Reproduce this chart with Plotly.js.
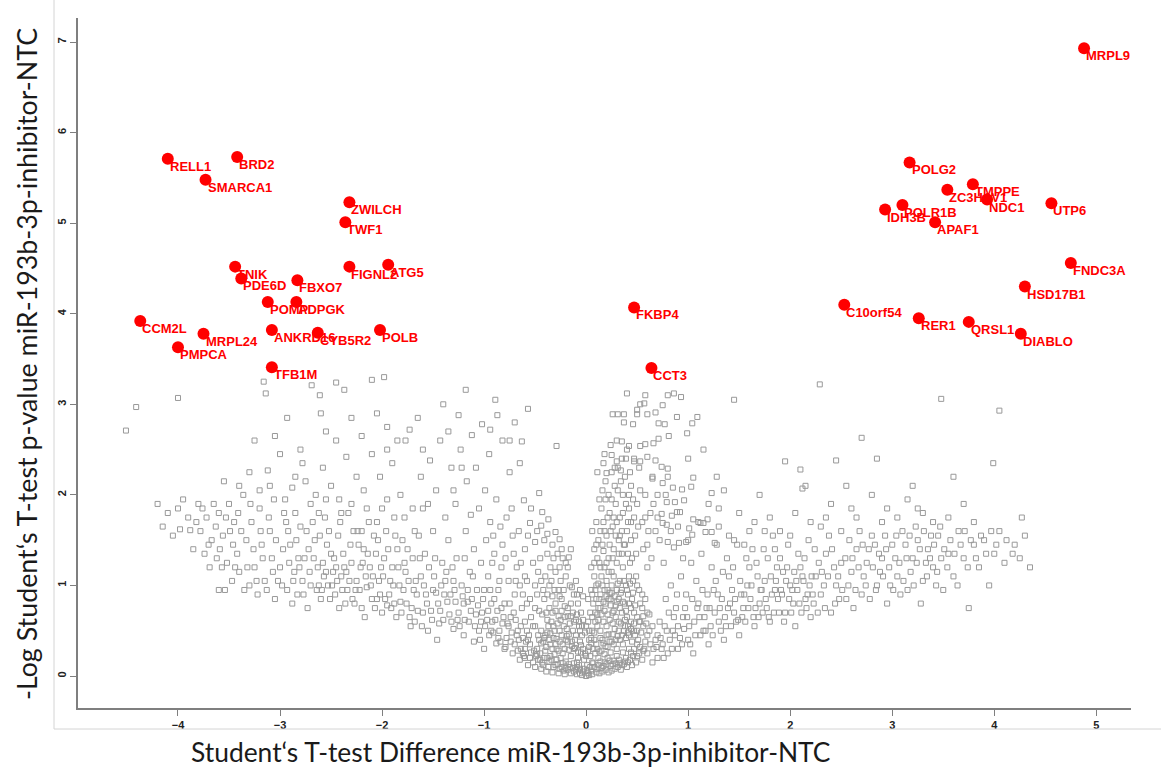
<!DOCTYPE html>
<html>
<head>
<meta charset="utf-8">
<script src="https://cdn.plot.ly/plotly-3.0.1.min.js"></script>
<style>html,body{margin:0;padding:0;background:#fff;}#chart{width:1161px;height:771px;}</style>
</head>
<body>
<div id="chart"></div>
<script>
// Labelled (significant) genes
const geneNames = ["RELL1","BRD2","SMARCA1","ZWILCH","TWF1","TNIK","PDE6D","FBXO7","FIGNL2","ATG5","POMP","ADPGK","CCM2L","MRPL24","PMPCA","ANKRD16","CYB5R2","POLB","TFB1M","FKBP4","CCT3","MRPL9","POLG2","TMPPE","ZC3HAV1","NDC1","UTP6","IDH3B","POLR1B","APAF1","FNDC3A","HSD17B1","C10orf54","RER1","QRSL1","DIABLO"];
const geneDiff = [-4.10,-3.42,-3.73,-2.32,-2.36,-3.44,-3.38,-2.83,-2.32,-1.94,-3.12,-2.84,-4.37,-3.75,-4.00,-3.08,-2.63,-2.02,-3.08,0.47,0.64,4.88,3.17,3.79,3.54,3.93,4.56,2.93,3.10,3.42,4.75,4.30,2.53,3.26,3.75,4.26];
const geneLogP = [5.71,5.73,5.48,5.23,5.01,4.52,4.39,4.37,4.52,4.54,4.13,4.13,3.92,3.78,3.63,3.82,3.79,3.82,3.41,4.07,3.40,6.93,5.67,5.43,5.37,5.26,5.22,5.15,5.20,5.01,4.56,4.30,4.10,3.95,3.91,3.78];

// Background (non-significant) proteins, [difference, -log p]
const greyCentre = [[0,0],[0.02,0.03],[-0.03,0.05],[0.05,0.06],[-0.06,0.08],[0.08,0.1],[-0.1,0.07],[0.12,0.12],[-0.12,0.14],[0.15,0.09],[-0.16,0.1],[0.18,0.15],[-0.2,0.16],[0.21,0.2],[-0.22,0.06],[0.24,0.11],[-0.25,0.2],[0.27,0.17],[-0.28,0.13],[0.3,0.22],[-0.31,0.24],[0.33,0.14],[-0.34,0.18],[0.36,0.26],[-0.37,0.1],[0.39,0.2],[-0.4,0.28],[0.42,0.3],[-0.43,0.15],[0.45,0.12],[0.01,0.12],[-0.02,0.18],[0.04,0.22],[-0.05,0.26],[0.07,0.3],[-0.08,0.2],[0.1,0.35],[-0.11,0.31],[0.13,0.27],[-0.14,0.38],[0.16,0.4],[-0.17,0.29],[0.19,0.33],[-0.19,0.44],[0.22,0.46],[-0.23,0.35],[0.25,0.38],[-0.26,0.5],[0.28,0.52],[-0.29,0.41],[0.31,0.44],[-0.32,0.55],[0.34,0.58],[-0.35,0.47],[0.37,0.5],[-0.38,0.62],[0.4,0.65],[0.03,0.4],[-0.04,0.45],[0.06,0.5],[-0.07,0.55],[0.09,0.6],[-0.1,0.62],[0.11,0.68],[-0.13,0.7],[0.14,0.75],[-0.15,0.8],[0.17,0.82],[-0.18,0.66],[0.2,0.88],[-0.21,0.77],[0.23,0.92],[-0.24,0.85],[0.26,0.7],[-0.27,0.95],[0.29,0.78],[-0.3,0.72],[0.32,0.85],[0.35,0.95],[-0.33,0.88],[0.38,0.8],[-0.36,1.0],[0.41,0.9],[0.44,0.75],[-0.41,0.85],[0.47,0.5],[-0.46,0.4],[0.5,0.35],[-0.49,0.22],[0.52,0.6],[-0.52,0.55],
[-0.5,0.1],[-0.47,0.18],[-0.44,0.08],[-0.41,0.2],[-0.39,0.05],[-0.36,0.16],[-0.33,0.04],[-0.3,0.12],[-0.27,0.03],[-0.24,0.1],[-0.21,0.02],[-0.18,0.07],[-0.15,0.03],[-0.12,0.05],[-0.09,0.02],[-0.06,0.03],[-0.04,0.01],[0.03,0.01],[0.06,0.02],[0.1,0.04],[0.13,0.03],[0.16,0.05],[0.19,0.07],[0.22,0.04],[0.25,0.06],[0.28,0.08],[0.31,0.1],[0.34,0.07],[0.37,0.13],[0.4,0.1],[0.43,0.18],[0.46,0.22],[0.49,0.15],[0.52,0.25],[0.55,0.18],[-0.48,0.3],[-0.45,0.25],[-0.42,0.38],[-0.39,0.32],[-0.36,0.4],[-0.33,0.3],[-0.3,0.35],[-0.27,0.28],[-0.24,0.45],[-0.21,0.3],[-0.18,0.38],[-0.15,0.22],[-0.12,0.3],[-0.09,0.15],[-0.06,0.38],[-0.03,0.3],[0.0,0.22],[0.03,0.32],[0.06,0.15],[0.09,0.25],[0.12,0.2],[0.15,0.28],[0.18,0.24],[0.21,0.32],[0.24,0.26],[0.27,0.35],[0.3,0.3],[0.33,0.4],[0.36,0.35],[0.39,0.42],[0.42,0.45],[0.45,0.38],[0.48,0.45],[0.51,0.4],[0.54,0.48],[0.57,0.3],[-0.44,0.5],[-0.4,0.45],[-0.37,0.55],[-0.34,0.6],[-0.31,0.5],[-0.28,0.58],[-0.25,0.62],[-0.22,0.55],[-0.19,0.52],[-0.16,0.58],[-0.13,0.5],[-0.1,0.45],[-0.07,0.6],[-0.04,0.55],[-0.01,0.48],[0.02,0.6],[0.05,0.42],[0.08,0.48],[0.11,0.55],[0.14,0.5],[0.17,0.6],[0.2,0.55],[0.23,0.62],[0.26,0.58],[0.29,0.65],[0.32,0.6],[0.35,0.7],[0.38,0.62],[0.41,0.55],[0.44,0.6],[0.47,0.7],[0.5,0.65],[0.53,0.8],[0.56,0.55],[0.6,0.45],[0.63,0.35],[-0.55,0.35],[-0.58,0.5],[-0.62,0.42],
[-0.05,0.7],[-0.08,0.8],[-0.12,0.9],[-0.16,1.0],[-0.2,1.1],[-0.25,1.05],[-0.3,1.15],[-0.35,1.2],[-0.4,1.1],[-0.45,1.3],[-0.5,1.0],[-0.55,0.85],[-0.6,1.1],[-0.65,1.0],[-0.03,0.88],[-0.1,1.05],[-0.18,1.2],[-0.23,1.3],[-0.28,1.35],[-0.42,0.95],
[-0.15,1.4],[-0.2,1.25],[-0.26,1.2],[-0.32,1.3],[-0.33,1.45],[-0.38,1.35],[-0.41,1.5],[-0.47,1.15],[-0.48,1.6],[-0.52,1.25],[-0.57,1.55],[-0.58,1.05],[-0.62,0.9],[-0.64,1.25],[-0.66,1.6],[-0.69,1.05],[-0.71,1.35],[-0.73,1.85],[-0.75,0.8],[-0.79,1.3],[-0.84,1.65],[-0.85,1.05],[-0.91,1.55],[-0.92,1.25]];

const greyCore = [[-0.02,0.08],[0.01,0.06],[-0.07,0.12],[0.04,0.1],[-0.09,0.1],[0.07,0.14],[-0.13,0.09],[0.11,0.08],[-0.17,0.13],[0.14,0.16],[-0.2,0.09],[0.17,0.11],[-0.23,0.14],[0.2,0.13],[-0.26,0.08],[0.23,0.17],[-0.29,0.18],[0.26,0.13],[-0.32,0.1],[0.29,0.14],[-0.35,0.22],[0.32,0.18],[-0.38,0.2],[0.35,0.12],[-0.42,0.12],[0.38,0.16],[-0.45,0.18],[0.41,0.15],[0.44,0.26],[-0.48,0.24],[0.47,0.3],[-0.51,0.28],[0.5,0.22],[0.53,0.32],[-0.54,0.26],[0.56,0.28],[0.58,0.38],[-0.57,0.4],[0.6,0.25],[0.62,0.5],[-0.6,0.2],[0.66,0.3],[-0.64,0.3],[0.68,0.4],
[-0.01,0.25],[0.02,0.28],[-0.05,0.34],[0.05,0.36],[-0.08,0.27],[0.08,0.4],[-0.11,0.4],[0.11,0.3],[-0.14,0.33],[0.14,0.42],[-0.17,0.46],[0.17,0.36],[-0.2,0.4],[0.2,0.45],[-0.23,0.25],[0.23,0.38],[-0.26,0.38],[0.26,0.46],[-0.29,0.3],[0.29,0.4],[-0.32,0.42],[0.32,0.5],[-0.35,0.35],[0.35,0.45],[-0.38,0.48],[0.38,0.55],[-0.41,0.42],[0.41,0.48],[-0.44,0.36],[0.44,0.52],[0.47,0.58],[-0.47,0.45],[0.5,0.5],[-0.5,0.55],[0.53,0.6],[0.56,0.66],[0.59,0.58],[0.62,0.68],[0.65,0.55],
[0.0,0.55],[0.03,0.5],[-0.03,0.62],[0.06,0.65],[-0.06,0.5],[0.09,0.7],[-0.09,0.68],[0.12,0.62],[-0.12,0.6],[0.15,0.68],[-0.15,0.66],[0.18,0.72],[-0.18,0.75],[0.21,0.68],[-0.21,0.65],[0.24,0.78],[-0.24,0.72],[0.27,0.72],[-0.27,0.66],[0.3,0.82],[-0.3,0.8],[0.33,0.75],[-0.33,0.7],[0.36,0.82],[-0.36,0.75],[0.39,0.72],[-0.39,0.7],[0.42,0.8],[-0.43,0.68],[0.45,0.85],[-0.46,0.72],[0.48,0.78],[-0.5,0.75],[0.55,0.75],[-0.54,0.65],[0.58,0.85],[0.6,0.7],[-0.58,0.8],
[0.06,0.9],[0.1,1.0],[0.13,0.85],[0.18,0.95],[0.22,0.85],[0.25,0.92],[0.28,0.88],[0.31,1.02],[0.34,0.92],[0.37,1.05],[0.4,0.95],[0.43,1.02],[0.46,0.92],[0.49,1.1],[0.52,0.95],[-0.06,0.95],[-0.09,0.9],[-0.14,0.98],[-0.22,0.95],[-0.26,0.88],[-0.31,0.95],[-0.34,1.05],[-0.38,0.9],[-0.44,1.05],[-0.48,0.9]];

const greyColumn = [[0.12,1.02],[0.15,1.1],[0.18,1.2],[0.2,1.05],[0.22,1.3],[0.25,1.15],[0.27,1.4],[0.3,1.25],[0.32,1.5],[0.35,1.35],[0.1,1.45],[0.14,1.6],[0.17,1.7],[0.2,1.55],[0.23,1.8],[0.26,1.65],[0.29,1.9],[0.33,1.75],[0.36,2.0],[0.4,1.6],[0.42,1.85],[0.45,1.3],[0.48,1.55],[0.13,1.95],[0.16,2.05],[0.19,2.15],[0.22,2.0],[0.25,2.25],[0.28,2.1],[0.31,2.3],[0.35,2.4],[0.38,2.2],[0.44,2.1],[0.5,1.9],[0.55,1.7],[0.58,2.0],[0.6,1.45],[0.63,1.8],[0.08,1.25],[0.06,1.6],[0.11,2.25],[0.18,2.45],[0.24,2.55],[0.3,2.6],[0.4,2.5],[0.47,2.4],[0.52,2.3],[0.65,2.2],[0.7,2.0],[0.68,1.6],[0.05,0.95],[0.1,0.85],[0.25,1.0],[0.42,1.1],[0.5,1.0],[0.55,0.9],[0.6,1.2],
[0.04,0.7],[0.07,0.8],[0.09,0.95],[0.12,0.75],[0.14,0.9],[0.16,1.0],[0.19,0.8],[0.21,0.95],[0.24,0.85],[0.27,1.1],[0.3,0.95],[0.33,1.05],[0.36,1.2],[0.39,1.0],[0.43,1.25],[0.46,1.05],[0.08,1.1],[0.11,1.3],[0.14,1.2],[0.17,1.38],[0.2,1.25],[0.23,1.45],[0.26,1.3],[0.29,1.55],[0.32,1.35],[0.35,1.6],[0.38,1.45],[0.41,1.7],[0.44,1.5],[0.47,1.75],
[0.02,0.85],[0.05,1.2],[0.08,1.4],[0.1,1.7],[0.12,1.5],[0.13,1.25],[0.15,1.85],[0.16,1.45],[0.18,1.6],[0.19,1.95],[0.21,1.75],[0.22,1.15],[0.24,1.6],[0.25,1.95],[0.27,1.75],[0.28,2.3],[0.3,1.7],[0.31,2.05],[0.33,1.55],[0.34,2.15],[0.36,1.8],[0.37,1.45],[0.39,1.9],[0.41,1.35],[0.42,2.0],[0.44,1.7],[0.46,1.95],[0.49,1.35],[0.51,1.65],[0.53,2.05],[0.56,1.4],[0.58,1.75],[0.61,1.6],[0.64,1.3],[0.66,1.9],[0.7,1.75],[0.72,1.5],[0.76,1.25],[0.83,1.6],[0.9,1.65],[0.95,1.3],[1.0,1.5],
[0.40,3.12],[0.58,3.10],[0.80,3.10],[0.86,3.12],[0.93,3.08],[0.53,3.0],[0.57,3.01],[0.75,2.99],[0.26,2.89],[0.31,2.89],[0.37,2.89],[0.5,2.94],[0.5,2.89],[0.6,2.89],[0.68,2.91],[0.89,2.86],[1.09,2.86],[1.04,2.79],[0.99,2.68],[0.37,2.8],[0.46,2.78],[0.71,2.79],[0.77,2.78],[0.81,2.65],[0.71,2.62],[0.66,2.57],[0.35,2.59],[0.58,2.56],[0.53,2.54],[0.42,2.54],
[0.17,2.35],[0.25,2.44],[0.30,2.37],[0.39,2.40],[0.20,2.24],[0.34,2.27],[0.43,2.25],[0.47,2.37],[0.53,2.37],[0.60,2.42],[0.68,2.38],[0.74,2.31],[0.80,2.29],[0.80,2.2],[0.75,2.13],[0.65,2.18],[1.05,2.19],[1.03,2.09],[0.94,2.06],[0.85,2.08],[1.23,2.02],[0.78,2.0],[0.96,1.94],[0.87,1.92],[0.79,1.92],[0.74,1.79],[0.84,1.77],[0.89,1.81],[0.92,1.81],[1.05,1.73],[1.19,1.73],[1.15,1.69],[1.12,1.69],[1.23,1.59],[1.17,1.59],[1.01,1.63],[1.04,1.56],[0.79,1.67],[0.75,1.69],[0.91,1.47],[0.98,1.48],[0.86,1.42],[0.80,1.48],[1.26,1.47]];

const greyLeftNear = [[-0.63,2.59],[-0.29,2.54],[-0.65,2.35],[-0.61,1.94],[-0.46,2.02],[-0.54,1.85],[-0.43,1.81],[-0.37,1.73],[-0.44,1.66],[-0.55,1.69],[-0.30,1.59],[-0.38,1.57],[-0.26,1.51],[-0.50,1.48],[-0.17,1.31],[-0.24,1.4],
[-0.55,0.2],[-0.6,0.3],[-0.65,0.18],[-0.7,0.35],[-0.72,0.25],[-0.78,0.42],[-0.8,0.3],[-0.85,0.5],[-0.88,0.36],[-0.92,0.6],[-0.95,0.45],[-1.0,0.3],[-1.02,0.7],[-1.05,0.5],[-1.1,0.38],[-1.12,0.85],[-1.15,0.6],[-1.2,0.45],[-1.22,1.0],[-1.25,0.7],[-1.3,0.52],[-1.33,0.9],[-1.37,1.15],[-1.4,0.62],[-1.45,0.8],[-1.48,1.3],[-0.56,0.45],[-0.6,0.6],[-0.63,0.75],[-0.67,0.5],[-0.7,0.9],[-0.74,0.65],[-0.76,1.05],[-0.8,0.8],[-0.83,1.2],[-0.86,0.95],[-0.9,1.35],[-0.93,0.8],[-0.96,1.1],[-0.98,1.5],[-1.03,1.25],[-1.07,0.95],[-1.1,1.4],[-1.14,1.15],[-1.18,1.6],[-1.2,0.8],[-1.27,1.3],[-1.3,1.05],[-1.35,1.5],[-1.42,1.0],[-1.46,0.4],[-1.5,0.95],
[-0.62,0.25],[-0.66,0.4],[-0.69,0.62],[-0.73,0.48],[-0.77,0.58],[-0.81,0.65],[-0.84,0.38],[-0.87,0.72],[-0.91,0.48],[-0.94,0.95],[-0.97,0.62],[-1.01,0.85],[-1.04,0.4],[-1.08,0.68],[-1.11,1.1],[-1.16,0.82],[-1.19,1.3],[-1.24,0.55],[-1.28,0.82],[-1.31,1.2],[-1.34,0.68],[-1.39,0.9],[-1.41,1.25],[-1.44,0.58],[-1.49,1.1],
[-0.52,0.15],[-0.57,0.12],[-0.59,0.38],[-0.61,0.22],[-0.64,0.55],[-0.67,0.28],[-0.68,0.45],[-0.71,0.7],[-0.74,0.38],[-0.76,0.55],[-0.79,0.32],[-0.82,0.58],[-0.83,0.75],[-0.86,0.42],[-0.89,0.62],[-0.9,0.85],[-0.93,0.5],[-0.96,0.72],[-0.99,0.55],[-1.0,0.95],[-1.03,0.6],[-1.06,0.78],[-1.09,0.55],[-1.13,0.72],[-1.16,0.95],[-1.19,0.62],[-1.21,0.88],[-1.26,0.62],[-1.29,0.95],[-1.32,0.6],[-1.36,0.82],[-1.38,1.05],[-1.43,0.72],[-1.47,0.92],
[-0.6,1.4],[-0.68,1.2],[-0.72,1.55],[-0.78,1.75],[-0.82,1.45],[-0.88,1.95],[-0.94,1.7],[-0.99,2.05],[-1.05,1.85],[-1.08,2.3],[-1.13,1.78],[-1.17,2.15],[-1.23,2.5],[-1.28,1.9],[-1.32,2.3],[-1.38,1.75],[-1.43,2.6],[-1.47,2.05],[-0.75,2.25],[-0.82,2.6],[-0.89,3.05],[-0.95,2.45],[-1.18,3.16],[-1.02,2.78],[-1.12,2.66],[-1.25,2.88],[-1.4,3.0],[-0.7,2.8],[-0.57,2.95],[-0.94,2.72],[-0.87,2.88],[-0.75,2.6],[-1.22,2.3],[-1.30,2.05],[-1.35,2.7],[-1.5,1.6]];

const greyLeftMid = [[-1.55,0.5],[-1.6,0.7],[-1.62,1.1],[-1.66,0.9],[-1.7,1.3],[-1.72,0.55],[-1.76,0.8],[-1.8,1.5],[-1.83,1.0],[-1.86,0.65],[-1.9,1.2],[-1.93,0.9],[-1.96,1.6],[-2.0,0.7],[-2.03,1.05],[-2.06,1.35],[-2.1,0.85],[-2.13,1.7],[-2.16,1.1],[-2.2,0.75],[-2.23,1.45],[-2.26,0.95],[-2.3,1.25],[-2.33,1.8],[-2.36,0.8],[-2.4,1.1],[-2.43,1.55],[-2.46,0.9],[-2.5,1.35],[-2.53,1.0],[-2.56,1.75],[-2.6,0.85],[-2.63,1.2],[-2.66,1.5],[-2.7,1.0],[-2.73,0.75],[-2.76,1.3],[-2.8,1.65],[-2.83,0.9],[-2.86,1.15],[-2.9,1.45],[-2.93,0.95],[-2.96,1.8],[-3.0,1.2],
[-1.58,1.35],[-1.64,1.55],[-1.68,0.6],[-1.74,1.05],[-1.78,1.25],[-1.85,1.4],[-1.88,0.8],[-1.92,1.05],[-1.98,1.3],[-2.02,0.9],[-2.08,1.55],[-2.12,1.2],[-2.18,1.4],[-2.22,0.95],[-2.28,1.6],[-2.32,1.05],[-2.38,1.35],[-2.42,0.75],[-2.48,1.15],[-2.52,1.6],[-2.58,1.25],[-2.62,1.0],[-2.68,1.7],[-2.72,1.4],[-2.78,1.05],[-2.82,1.3],[-2.88,0.8],[-2.92,1.6],[-2.98,1.0],
[-1.52,0.72],[-1.54,1.2],[-1.57,0.9],[-1.61,0.55],[-1.63,1.3],[-1.67,1.05],[-1.71,0.75],[-1.75,1.4],[-1.79,0.95],[-1.81,0.7],[-1.84,1.2],[-1.87,1.55],[-1.91,0.75],[-1.94,1.4],[-1.97,0.85],[-2.01,1.2],[-2.04,1.5],[-2.07,0.75],[-2.11,1.0],[-2.14,1.35],[-2.17,0.65],[-2.21,1.2],[-2.24,1.6],[-2.27,0.8],[-2.31,1.45],[-2.34,0.95],[-2.37,1.2],[-2.41,1.7],[-2.44,1.05],[-2.47,1.3],[-2.51,0.85],[-2.54,1.45],[-2.57,1.1],[-2.61,1.55],[-2.64,0.95],[-2.67,1.3],[-2.71,1.15],[-2.74,1.6],[-2.77,0.9],[-2.81,1.2],[-2.84,1.5],[-2.87,1.05],[-2.91,1.25],[-2.94,1.7],[-2.97,1.4],
[-1.51,0.62],[-1.56,0.8],[-1.59,1.0],[-1.65,0.72],[-1.69,0.95],[-1.73,0.65],[-1.77,1.15],[-1.82,0.82],[-1.89,1.0],[-1.95,0.78],[-1.99,1.1],[-2.05,0.85],[-2.09,1.1],[-2.15,0.98],[-2.19,1.25],[-2.25,1.05],[-2.29,0.85],[-2.35,1.15],[-2.39,0.95],[-2.45,1.2],[-2.49,1.0],[-2.55,1.15],[-2.59,0.95],
[-1.6,1.85],[-1.68,1.6],[-1.78,1.75],[-1.88,1.75],[-2.0,1.85],[-2.05,1.7],[-2.15,1.85],[-2.2,1.6],[-2.3,1.9],[-2.4,1.8],[-2.55,1.95],[-2.62,1.8],[-2.7,1.9],[-2.85,1.8],[-2.78,2.35],[-2.45,2.6],[-2.2,2.65],[-1.95,2.5],[-1.6,2.5],[-2.05,2.9],[-2.3,2.85],[-2.55,2.7],
[-1.55,1.9],[-1.62,2.2],[-1.7,1.85],[-1.77,2.6],[-1.73,2.72],[-1.82,2.0],[-1.9,2.35],[-1.95,1.95],[-2.02,2.2],[-2.1,2.45],[-2.18,2.05],[-2.25,2.2],[-2.35,2.42],[-2.42,1.95],[-2.5,2.1],[-2.58,2.3],[-2.65,2.0],[-2.75,2.15],[-2.85,2.2],[-2.88,2.08],[-2.95,1.95],[-1.53,2.38],[-1.65,2.85],[-1.85,2.6],[-1.95,2.75],[-2.6,2.9],[-2.8,2.5],[-2.69,3.21],[-2.61,3.10],[-2.45,3.24],[-2.37,3.16],[-2.1,3.27],[-1.98,3.30]];

const greyLeftFar = [[-3.05,0.85],[-3.08,1.3],[-3.1,1.6],[-3.12,2.27],[-3.15,1.05],[-3.18,1.45],[-3.2,1.85],[-3.22,0.9],[-3.25,1.2],[-3.28,1.7],[-3.3,1.0],[-3.33,1.5],[-3.36,2.0],[-3.4,1.15],[-3.42,1.35],[-3.45,1.7],[-3.47,1.05],[-3.5,1.9],[-3.52,1.25],[-3.54,0.95],[-3.56,1.55],[-3.6,1.8],[-3.62,1.3],[-3.65,1.9],[-3.7,1.45],[-3.72,1.75],[-3.78,1.6],[-3.8,1.9],[-3.85,1.4],[-3.88,1.61],[-3.95,1.95],[-4.0,1.85],[-4.05,1.55],[-3.14,3.12],[-3.16,3.25],[-2.93,2.85],[-3.1,2.1],[-3.2,2.05],[-3.3,2.25],[-4.0,3.07],[-4.41,2.97],[-4.51,2.71],[-3.06,1.95],[-3.25,2.6],
[-3.02,1.05],[-3.04,1.5],[-3.07,1.15],[-3.11,1.75],[-3.13,0.95],[-3.17,1.3],[-3.19,1.6],[-3.23,1.05],[-3.26,1.4],[-3.29,1.9],[-3.32,1.2],[-3.35,0.95],[-3.38,1.6],[-3.41,1.8],[-3.44,1.2],[-3.46,1.45],[-3.49,1.6],[-3.53,1.75],[-3.57,1.2],[-3.59,1.4],[-3.63,1.65],[-3.67,1.5],[-3.69,1.2],[-3.74,1.35],[-3.76,1.85],[-3.82,1.7],[-3.9,1.75],[-3.98,1.62],[-4.1,1.8],[-4.2,1.9],[-4.15,1.65],[-3.6,0.95],[-3.4,2.1],[-3.55,2.15],[-3.0,2.45],[-3.05,2.65]];

const greyRightMid = [[0.7,0.2],[0.75,0.35],[0.8,0.25],[0.85,0.5],[0.9,0.3],[0.95,0.65],[1.0,0.4],[1.05,0.25],[1.1,0.8],[1.15,0.5],[1.2,0.35],[1.25,0.95],[1.3,0.6],[1.35,0.4],[1.4,1.1],[1.45,0.7],[1.5,0.45],[1.55,0.9],[1.6,1.2],[1.65,0.55],[1.7,0.8],[1.75,1.05],[1.8,0.6],[1.85,0.95],[1.9,1.3],[1.95,0.7],[2.0,1.0],[2.05,0.55],[2.1,1.2],[2.15,0.85],[2.2,0.65],[2.25,1.1],[2.3,0.9],[2.35,1.35],[2.4,0.7],[2.45,1.0],[2.5,1.25],
[0.72,0.6],[0.78,0.85],[0.83,1.0],[0.88,0.75],[0.93,1.1],[0.98,0.9],[1.03,1.25],[1.08,1.05],[1.13,1.35],[1.18,0.75],[1.23,1.2],[1.28,1.45],[1.33,0.85],[1.38,1.3],[1.43,0.95],[1.48,1.45],[1.53,0.65],[1.58,1.0],[1.63,1.4],[1.68,1.1],[1.73,0.7],[1.78,1.3],[1.83,1.55],[1.88,0.85],[1.93,1.15],[1.98,1.45],[2.03,0.8],[2.08,1.35],[2.13,1.05],[2.18,1.5],[2.23,0.8],[2.28,1.25],[2.33,1.0],[2.38,1.55],[2.43,1.2],[2.48,0.85],
[0.65,0.15],[0.7,0.45],[0.74,0.3],[0.77,0.55],[0.82,0.4],[0.86,0.65],[0.9,0.55],[0.94,0.35],[0.97,0.75],[1.01,0.55],[1.04,0.85],[1.07,0.45],[1.11,0.65],[1.14,0.95],[1.17,0.5],[1.21,0.75],[1.24,0.45],[1.27,1.05],[1.31,0.75],[1.34,1.15],[1.37,0.55],[1.41,0.8],[1.44,1.2],[1.47,0.6],[1.51,1.05],[1.54,0.75],[1.57,1.3],[1.61,0.85],[1.64,0.65],[1.67,1.25],[1.71,0.95],[1.74,1.4],[1.77,0.75],[1.81,1.1],[1.84,0.7],[1.87,1.2],[1.91,0.95],[1.94,0.6],[1.97,1.2],[2.01,0.7],[2.04,1.15],[2.07,0.95],[2.11,0.7],[2.14,1.3],[2.17,0.9],[2.21,1.1],[2.24,1.4],[2.27,0.7],[2.31,1.15],[2.34,0.75],[2.37,1.1],[2.41,1.4],[2.44,0.8],[2.47,1.1],
[0.69,0.32],[0.73,0.42],[0.76,0.2],[0.79,0.5],[0.81,0.7],[0.84,0.3],[0.87,0.45],[0.89,0.9],[0.92,0.42],[0.96,0.52],[0.99,0.65],[1.02,0.35],[1.06,0.6],[1.09,0.75],[1.12,0.45],[1.16,0.65],[1.19,0.9],[1.22,0.55],[1.26,0.7],[1.29,0.9],[1.32,0.5],[1.36,0.65],[1.39,0.75],[1.42,0.55],[1.46,0.85],[1.49,0.62],[1.52,0.9],[1.56,0.6],[1.59,0.75],[1.62,1.0],[1.66,0.75],[1.69,0.65],[1.72,0.95],[1.76,0.85],[1.79,0.65],[1.82,0.9],[1.86,1.05],[1.89,0.7],[1.92,0.9],[1.96,1.05],[1.99,0.85],[2.02,0.95],[2.06,1.05],[2.09,0.8],[2.12,1.1],[2.16,0.75],[2.19,1.0],[2.22,0.9],
[1.1,1.7],[1.2,1.9],[1.3,1.65],[1.35,2.05],[1.4,1.55],[1.5,1.8],[1.6,1.6],[1.7,2.0],[1.8,1.75],[1.95,2.37],[2.05,1.8],[2.15,2.1],[2.3,1.65],[2.4,1.9],[2.45,2.38],[1.28,2.2],[1.45,3.05],[1.15,2.5],[1.0,2.4],[2.29,3.22],[1.9,1.6],[2.12,2.07],[2.1,2.28],[1.3,1.85],[1.45,1.5],[1.55,1.45],[1.65,1.7],[1.75,1.6],[1.85,1.4],[2.0,1.55],[2.2,1.7],[2.35,1.75]];

const greyRightFar = [[2.55,0.85],[2.6,1.15],[2.65,1.4],[2.7,0.9],[2.75,1.25],[2.8,1.55],[2.85,1.0],[2.9,1.3],[2.95,0.8],[3.0,1.45],[3.05,1.1],[3.1,1.6],[3.15,0.95],[3.2,1.3],[3.25,1.5],[3.3,1.05],[3.35,1.4],[3.4,1.2],[3.45,1.55],[3.5,0.95],[3.55,1.35],[3.6,1.1],[3.65,1.6],[3.7,1.3],[3.75,0.75],[3.8,1.45],[3.85,1.2],[3.9,1.5],[3.95,1.0],[4.0,1.35],[4.05,1.6],[4.1,1.25],[4.2,1.45],[4.25,1.3],[4.27,1.75],[4.3,1.55],[4.35,1.2],
[2.58,1.5],[2.62,0.75],[2.68,1.6],[2.72,1.1],[2.78,0.85],[2.83,1.45],[2.88,1.15],[2.93,1.55],[2.98,1.0],[3.03,1.3],[3.08,0.9],[3.13,1.45],[3.18,1.15],[3.23,1.65],[3.28,0.8],[3.33,1.25],[3.38,1.55],[3.43,1.0],[3.48,1.3],
[2.51,0.95],[2.54,1.3],[2.57,1.0],[2.61,1.3],[2.64,0.95],[2.67,1.2],[2.71,1.45],[2.74,1.0],[2.77,1.4],[2.81,1.2],[2.84,0.95],[2.87,1.35],[2.91,1.1],[2.94,1.4],[2.97,1.2],[3.01,0.95],[3.04,1.55],[3.07,1.25],[3.11,1.05],[3.14,1.3],[3.17,1.55],[3.21,1.0],[3.24,1.25],[3.27,1.4],[3.31,1.6],[3.34,1.1],[3.37,1.3],[3.41,1.45],[3.44,1.15],[3.47,1.65],[3.51,1.4],[3.54,1.2],[3.57,1.5],[3.61,1.35],[3.64,1.0],[3.67,1.45],[3.71,1.6],[3.74,1.2],[3.77,1.5],[3.82,1.3],[3.87,1.55],[3.92,1.35],[3.97,1.6],[4.02,1.45],[4.12,1.5],[4.18,1.35],
[2.5,1.6],[2.65,1.75],[2.9,1.7],[3.05,1.75],[3.25,1.85],[3.4,1.7],[3.55,1.75],[3.8,1.7],
[2.7,2.63],[2.55,2.1],[2.8,2.0],[2.95,1.85],[3.15,1.95],[3.3,1.8],[3.48,3.06],[3.6,2.2],[3.99,2.35],[4.05,2.93],[3.7,1.9],[2.85,2.4],[3.2,2.1],[2.6,1.85]];

const xTickVals = [-4,-3,-2,-1,0,1,2,3,4,5];
const yTickVals = [0,1,2,3,4,5,6,7];
const xTitle = "Student\u2018s T-test Difference miR-193b-3p-inhibitor-NTC";
const yTitle = "-Log Student\u2018s T-test p-value miR-193b-3p-inhibitor-NTC";

const allGrey = [].concat(greyCentre, greyCore, greyColumn, greyLeftNear, greyLeftMid, greyLeftFar, greyRightMid, greyRightFar);

const traces = [
  {
    type: 'scatter', mode: 'markers',
    x: allGrey.map(p => p[0]), y: allGrey.map(p => p[1]),
    marker: {symbol: 'square-open', size: 5, color: '#999999', line: {width: 1}},
    hoverinfo: 'skip', showlegend: false
  },
  {
    type: 'scatter', mode: 'markers',
    x: geneDiff, y: geneLogP, text: geneNames,
    marker: {symbol: 'circle', size: 12, color: '#ff0000'},
    showlegend: false
  }
];

const labelFont = {family: 'Liberation Sans, Arial, sans-serif', size: 13, color: '#ff0000', weight: 'bold'};
const annotations = geneNames.map((n, i) => ({
  x: geneDiff[i], y: geneLogP[i], xref: 'x', yref: 'y', text: n, showarrow: false,
  xanchor: 'left', yanchor: 'top', xshift: 1, yshift: 1, font: labelFont, borderpad: 0
}));
annotations.push({
  xref: 'paper', yref: 'paper', x: (511 - 78) / 1053, y: (708 - 752) / 690, xanchor: 'center', yanchor: 'middle',
  text: xTitle, showarrow: false, font: {family: 'Lato, sans-serif', size: 26.4, color: '#1a1a1a'}
});
annotations.push({
  xref: 'paper', yref: 'paper', x: (27 - 78) / 1053, y: (708 - 364) / 690, xanchor: 'center', yanchor: 'middle',
  text: yTitle, textangle: -90, showarrow: false, font: {family: 'Lato, sans-serif', size: 26.8, color: '#1a1a1a'}
});

const axisCommon = {
  showline: true, linecolor: '#7f7f7f', linewidth: 2, ticks: 'outside', ticklen: 6, tickwidth: 1,
  tickcolor: '#7f7f7f', showgrid: false, zeroline: false,
  tickfont: {family: 'Liberation Sans, Arial, sans-serif', size: 11, color: '#222', weight: 'bold'}
};

const layout = {
  width: 1161, height: 771,
  margin: {l: 78, r: 30, t: 18, b: 63},
  paper_bgcolor: '#ffffff', plot_bgcolor: '#ffffff',
  showlegend: false,
  xaxis: Object.assign({}, axisCommon, {range: [-4.98, 5.34], tickmode: 'array', tickvals: xTickVals}),
  yaxis: Object.assign({}, axisCommon, {range: [-0.353, 7.265], tickmode: 'array', tickvals: yTickVals, tickangle: -90}),
  annotations: annotations,
  shapes: [
    {type: 'line', xref: 'paper', yref: 'paper', x0: (54 - 78) / 1053, x1: (54 - 78) / 1053, y0: (708 - 729) / 690, y1: 708 / 690, line: {color: '#d4d4d4', width: 1}},
    {type: 'line', xref: 'paper', yref: 'paper', x0: (54 - 78) / 1053, x1: (1161 - 78) / 1053, y0: (708 - 729) / 690, y1: (708 - 729) / 690, line: {color: '#d4d4d4', width: 1}}
  ]
};

Plotly.newPlot('chart', traces, layout, {displayModeBar: false, responsive: false});
</script>
</body>
</html>
